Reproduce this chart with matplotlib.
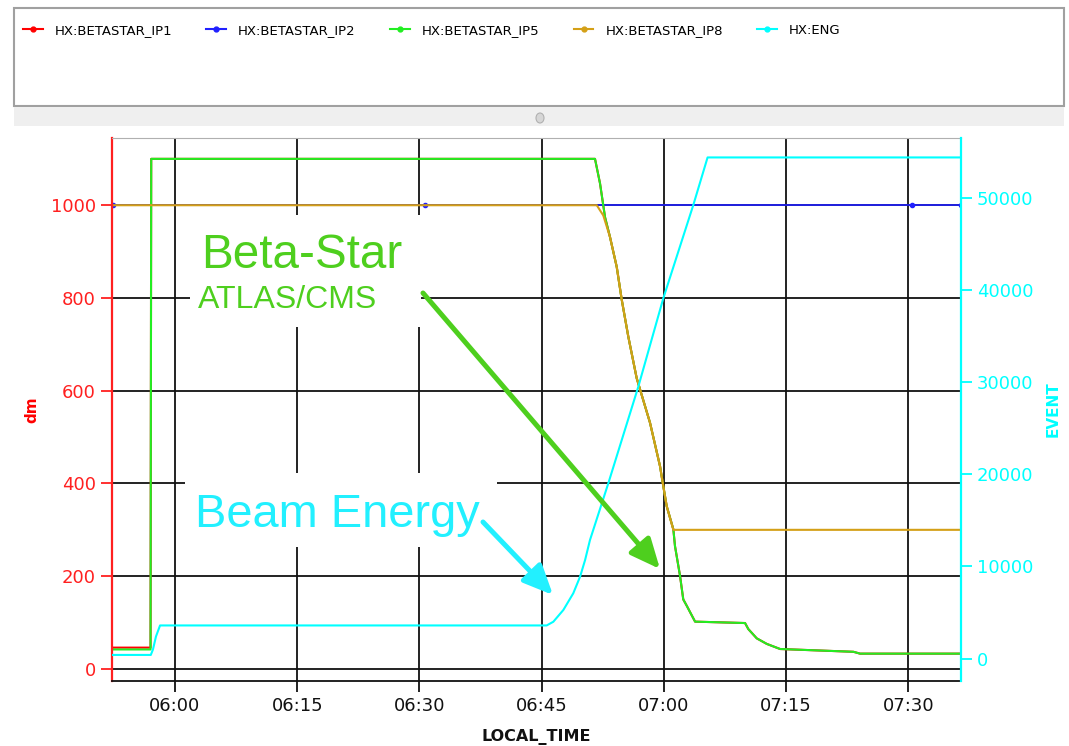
import pandas as pd
import matplotlib.pyplot as plt
import matplotlib.dates as mdates
from matplotlib.lines import Line2D
from matplotlib.patches import Rectangle, Ellipse, FancyArrowPatch

# === Data (LHC beta-star and beam energy, one fill) ===
day = "2023-04-20 "
t_start = "05:52:14"
t_end = "07:36:26"

# ATLAS / CMS (IP1 and IP5) follow the same beta-star program
ip15_time = ["05:52:14", "05:57:00", "05:57:05", "06:51:33", "06:52:10", "06:52:47",
             "06:53:23", "06:54:13", "06:54:50", "06:55:38", "06:56:40", "06:58:18",
             "06:59:32", "06:59:52", "07:00:21", "07:01:10", "07:01:22", "07:01:59",
             "07:02:23", "07:02:49", "07:03:50", "07:09:58", "07:10:22", "07:11:24",
             "07:12:38", "07:14:16", "07:23:16", "07:24:05", "07:36:26"]
ip1_dm = [46, 46, 1100, 1100, 1047, 974, 932, 867, 796, 717, 627, 531, 437, 401, 351,
          301, 265, 201, 150, 136, 102, 99, 86, 66, 54, 43, 37, 33, 33]
ip5_dm = [42, 42, 1100, 1100, 1047, 974, 932, 867, 796, 717, 627, 531, 437, 401, 351,
          301, 265, 201, 150, 136, 102, 99, 86, 66, 54, 43, 37, 33, 33]

ip2_time = ["05:52:23", "06:30:41", "07:30:28", "07:36:26"]
ip2_dm = [1000, 1000, 1000, 1000]

ip8_time = ["05:52:14", "06:51:46", "06:52:34", "06:53:23", "06:54:13", "06:54:50",
            "06:55:38", "06:56:40", "06:58:18", "06:59:32", "06:59:52", "07:00:21",
            "07:01:10", "07:36:26"]
ip8_dm = [1000, 1000, 978, 932, 867, 796, 717, 627, 531, 437, 401, 351, 300, 300]

eng_time = ["05:52:14", "05:57:02", "05:57:18", "05:57:40", "05:58:10", "06:45:37",
            "06:46:26", "06:47:40", "06:48:53", "06:49:43", "06:50:20", "06:50:56",
            "06:53:11", "06:56:52", "06:59:56", "07:03:37", "07:05:22", "07:36:26"]
eng_val = [400, 400, 1000, 2400, 3600, 3600, 4000, 5280, 7090, 8890, 10700, 12870,
           19030, 29520, 39110, 49240, 54400, 54400]

names = ["HX:BETASTAR_IP1", "HX:BETASTAR_IP2", "HX:BETASTAR_IP5", "HX:BETASTAR_IP8", "HX:ENG"]
colors = ["#ff0000", "#2020ff", "#22ee22", "#d4a017", "#00ffff"]

GREEN_NOTE = "#4ecf1e"
CYAN_NOTE = "#22f0ff"


def ts(lst):
    return pd.to_datetime([day + s for s in lst])


# === Figure layout in pixels ===
W, H = 1069, 746


def fx(x):
    return x / W


def fy(y):
    return 1 - y / H


fig = plt.figure(figsize=(W / 100, H / 100), dpi=100)
fig.patch.set_facecolor("white")

ax = fig.add_axes([fx(111.7), fy(681), (960.7 - 111.7) / W, (681 - 138) / H])
ax2 = ax.twinx()

ax.plot(ts(ip15_time), ip1_dm, color=colors[0], lw=1.5)
ax.plot(ts(ip2_time), ip2_dm, color=colors[1], lw=1.2, marker="o", ms=3)
ax.plot(ts(ip15_time), ip5_dm, color=colors[2], lw=1.5)
ax.plot(ts(ip8_time), ip8_dm, color=colors[3], lw=1.5)
ax2.plot(ts(eng_time), eng_val, color=colors[4], lw=1.5)

ax.set_xlim(pd.Timestamp(day + t_start), pd.Timestamp(day + t_end))
ax.set_ylim(-26, 1145)
ax2.set_ylim(-2430, 56510)
ax.set_yticks([0, 200, 400, 600, 800, 1000])
ax2.set_yticks([0, 10000, 20000, 30000, 40000, 50000])

ax.xaxis.set_major_locator(mdates.MinuteLocator(byminute=[0, 15, 30, 45]))
ax.xaxis.set_major_formatter(mdates.DateFormatter("%H:%M"))

ax.grid(True, color="#111111", lw=1.3)
ax.set_axisbelow(True)

# axes colours
ax.spines["left"].set_color("#ff2020")
ax.spines["left"].set_linewidth(1.6)
ax.spines["right"].set_visible(False)
ax.spines["top"].set_color("#b0b0b0")
ax.spines["bottom"].set_color("#111111")
ax.spines["bottom"].set_linewidth(1.3)
for s in ["left", "top", "bottom"]:
    ax2.spines[s].set_visible(False)
ax2.spines["right"].set_color("#00ffff")
ax2.spines["right"].set_linewidth(1.6)

ax.tick_params(axis="y", colors="#ff2020", labelsize=13, length=8, width=1.3)
ax.tick_params(axis="x", colors="#111111", labelsize=13, length=8, width=1.3)
ax2.tick_params(axis="y", colors="#00ffff", labelsize=13, length=8, width=1.3)

ax.set_ylabel("dm", color="#ff0000", fontweight="bold", fontsize=11, labelpad=8)
ax2.set_ylabel("EVENT", color="#00ffff", fontweight="bold", fontsize=11, labelpad=9)
ax.set_xlabel("LOCAL_TIME", color="#111111", fontweight="bold", fontsize=11.5, labelpad=10)

# === Legend panel on top ===
fig.add_artist(Rectangle((fx(14), fy(106)), (1064 - 14) / W, (106 - 8) / H,
                         facecolor="white", edgecolor="#a0a0a0", lw=1.5,
                         transform=fig.transFigure, zorder=1))
fig.add_artist(Rectangle((fx(14), fy(126)), (1064 - 14) / W, (126 - 107) / H,
                         facecolor="#efefef", edgecolor="none",
                         transform=fig.transFigure, zorder=1))
fig.add_artist(Ellipse((fx(540), fy(118)), 8 / W, 10 / H, facecolor="#d6d6d6",
                       edgecolor="#b0b0b0", lw=0.8, transform=fig.transFigure, zorder=2))

handles = [Line2D([], [], color=c, lw=1.5, marker="o", ms=3.5) for c in colors]
fig.legend(handles, names, loc="upper left", bbox_to_anchor=(fx(11), fy(12)),
           ncol=5, frameon=False, fontsize=9.5, handlelength=1.5,
           handletextpad=0.9, columnspacing=2.6)

# === Annotations ===
fig.add_artist(Rectangle((fx(190), fy(327)), (421 - 190) / W, (327 - 215) / H,
                         facecolor="white", edgecolor="none",
                         transform=fig.transFigure, zorder=1))
fig.add_artist(Rectangle((fx(185), fy(547)), (497 - 185) / W, (547 - 473) / H,
                         facecolor="white", edgecolor="none",
                         transform=fig.transFigure, zorder=1))

fig.text(fx(201), fy(268), "Beta-Star", fontsize=34.3, color=GREEN_NOTE,
         family="Liberation Sans", va="baseline", zorder=3)
fig.text(fx(198), fy(308), "ATLAS/CMS", fontsize=23, color=GREEN_NOTE,
         family="Liberation Sans", va="baseline", zorder=3)
fig.text(fx(195), fy(527), "Beam Energy", fontsize=33.8, color=CYAN_NOTE,
         family="Liberation Sans", va="baseline", zorder=3)

fig.add_artist(FancyArrowPatch((fx(423), fy(293)), (fx(660), fy(569)),
                               arrowstyle="-|>,head_length=1.0,head_width=0.45",
                               mutation_scale=18, lw=3.6, color=GREEN_NOTE,
                               shrinkA=0, shrinkB=0, transform=fig.transFigure, zorder=4))
fig.add_artist(FancyArrowPatch((fx(483), fy(522)), (fx(553), fy(595)),
                               arrowstyle="-|>,head_length=1.0,head_width=0.45",
                               mutation_scale=18, lw=3.6, color=CYAN_NOTE,
                               shrinkA=0, shrinkB=0, transform=fig.transFigure, zorder=4))

fig.savefig("out.png", dpi=100)
